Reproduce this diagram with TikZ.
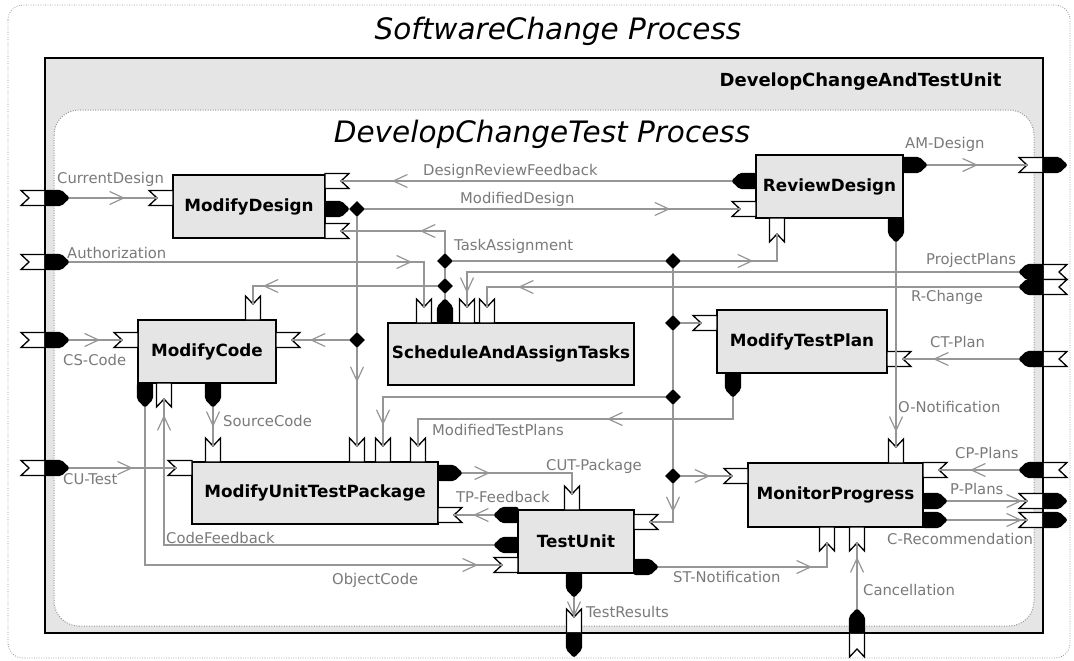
\documentclass[tikz,border=0pt]{standalone}
\usepackage{fontspec}
\setmainfont{DejaVu Sans}
\usetikzlibrary{arrows.meta,decorations.markings,shapes.geometric}
\definecolor{procfill}{RGB}{229,229,229}
\definecolor{flowgray}{RGB}{150,150,150}
\definecolor{labelgray}{RGB}{122,122,122}
\definecolor{framegray}{RGB}{150,150,150}
\begin{document}
\begin{tikzpicture}[x=1pt,y=-1pt,
	proc/.style={draw=black, line width=1.5pt, fill=procfill, inner sep=0pt, font=\fontsize{16.8}{20}\selectfont\bfseries},
	junc/.style={diamond, fill=black, inner sep=0pt, minimum size=16pt},
	flow/.style={color=flowgray, line width=1.2pt},
	flowtip/.style={postaction={decorate, decoration={markings, mark=at position #1 with {\arrow{Straight Barb[length=14pt,width=13pt]}}}}},
	lbl/.style={text=labelgray, font=\fontsize{14.8}{17}\selectfont, anchor=base west, inner sep=0pt},
	inport/.pic={\draw[line width=1.3pt, fill=white] (-24,-7.5) -- (0,-7.5) -- (0,7.5) -- (-24,7.5) -- (-16,0) -- cycle;
		\coordinate (-c) at (-16,0);},
	outport/.pic={\draw[line width=1.3pt, fill=black, rounded corners=2pt] (0,-7.5) -- (16,-7.5) -- (24,0) -- (16,7.5) -- (0,7.5) -- cycle;
		\coordinate (-c) at (24,0);}
	]
	\fill[white] (0,0) rectangle (1074,661);
	\useasboundingbox (0,0) rectangle (1074,661);
	\draw[framegray, line width=0.8pt, dash pattern=on 0.8pt off 1.6pt, rounded corners=15pt] (8,5) rectangle (1070,658);
	\node[font=\fontsize{29.5}{34}\selectfont\itshape] (title) at (558,31) {SoftwareChange Process};
	\draw[line width=1.5pt, fill=procfill] (45,58) rectangle (1043,633);
	\draw[framegray, line width=1pt, dash pattern=on 1pt off 1.5pt, fill=white, rounded corners=25pt] (54,110) rectangle (1034,626);
	\node[font=\fontsize{18}{21}\selectfont\bfseries, anchor=base east] (unitname) at (1005,87) {DevelopChangeAndTestUnit};
	\node[font=\fontsize{29.5}{34}\selectfont\itshape] (subtitle) at (542,134) {DevelopChangeTest Process};
	% processes
	\node[proc, minimum width=152pt, minimum height=63pt] (md) at (249,206.5) {ModifyDesign};
	\node[proc, minimum width=147pt, minimum height=63pt] (rd) at (829.5,186.5) {ReviewDesign};
	\node[proc, minimum width=138pt, minimum height=63pt] (mc) at (207,351.5) {ModifyCode};
	\node[proc, minimum width=246pt, minimum height=62pt] (st) at (511,354) {ScheduleAndAssignTasks};
	\node[proc, minimum width=170pt, minimum height=63pt] (mt) at (802,341.5) {ModifyTestPlan};
	\node[proc, minimum width=246pt, minimum height=62pt] (mu) at (315,493) {ModifyUnitTestPackage};
	\node[proc, minimum width=175pt, minimum height=64pt] (mp) at (835.5,495) {MonitorProgress};
	\node[proc, minimum width=116pt, minimum height=63pt] (tu) at (576,541.5) {TestUnit};
	% boundary ports
	\pic (cd-in) at (45,198) {inport}; \pic (cd-out) at (45,198) {outport};
	\pic (au-in) at (45,262) {inport}; \pic (au-out) at (45,262) {outport};
	\pic (cs-in) at (45,340) {inport}; \pic (cs-out) at (45,340) {outport};
	\pic (cu-in) at (45,468) {inport}; \pic (cu-out) at (45,468) {outport};
	\pic (am-in) at (1043,165) {inport}; \pic (am-out) at (1043,165) {outport};
	\pic[rotate=180] (pp-in) at (1043,272) {inport}; \pic[rotate=180] (pp-out) at (1043,272) {outport};
	\pic[rotate=180] (rc-in) at (1043,287) {inport}; \pic[rotate=180] (rc-out) at (1043,287) {outport};
	\pic[rotate=180] (ct-in) at (1043,359) {inport}; \pic[rotate=180] (ct-out) at (1043,359) {outport};
	\pic[rotate=180] (cp-in) at (1043,470) {inport}; \pic[rotate=180] (cp-out) at (1043,470) {outport};
	\pic (pl-in) at (1043,501) {inport}; \pic (pl-out) at (1043,501) {outport};
	\pic (cr-in) at (1043,520) {inport}; \pic (cr-out) at (1043,520) {outport};
	\pic[rotate=-90] (tr-in) at (574,633) {inport}; \pic[rotate=-90] (tr-out) at (574,633) {outport};
	\pic[rotate=90] (cn-in) at (857,633) {inport}; \pic[rotate=90] (cn-out) at (857,633) {outport};
	% process ports
	\pic (md-cd) at (173,198) {inport};
	\pic[rotate=180] (md-drf) at (325,181) {inport};
	\pic (md-mod) at (325,209) {outport};
	\pic[rotate=180] (md-ta) at (325,231) {inport};
	\pic[rotate=180] (rd-drf) at (756,181) {outport};
	\pic (rd-mod) at (756,209) {inport};
	\pic (rd-am) at (903,165) {outport};
	\pic[rotate=90] (rd-ta) at (777,218) {inport};
	\pic[rotate=-90] (rd-on) at (896,218) {outport};
	\pic (mc-cs) at (138,340) {inport};
	\pic[rotate=-90] (mc-ta) at (253,320) {inport};
	\pic[rotate=180] (mc-mod) at (276,340) {inport};
	\pic[rotate=-90] (mc-oc) at (145,383) {outport};
	\pic[rotate=90] (mc-cf) at (164,383) {inport};
	\pic[rotate=-90] (mc-sc) at (213,383) {outport};
	\pic[rotate=-90] (st-au) at (424,323) {inport};
	\pic[rotate=90] (st-ta) at (445,323) {outport};
	\pic[rotate=-90] (st-pp) at (467,323) {inport};
	\pic[rotate=-90] (st-rc) at (487,323) {inport};
	\pic (mt-ta) at (717,323) {inport};
	\pic[rotate=180] (mt-ct) at (887,359) {inport};
	\pic[rotate=-90] (mt-mtp) at (733,373) {outport};
	\pic (mu-cu) at (192,468) {inport};
	\pic[rotate=-90] (mu-sc) at (213,462) {inport};
	\pic[rotate=-90] (mu-mod) at (357,462) {inport};
	\pic[rotate=-90] (mu-ta) at (383,462) {inport};
	\pic[rotate=-90] (mu-mtp) at (418,462) {inport};
	\pic (mu-cut) at (438,473) {outport};
	\pic[rotate=180] (mu-tpf) at (438,515) {inport};
	\pic (mp-ta) at (748,476) {inport};
	\pic[rotate=-90] (mp-on) at (896,463) {inport};
	\pic[rotate=180] (mp-cp) at (923,470) {inport};
	\pic (mp-pl) at (923,501) {outport};
	\pic (mp-cr) at (923,520) {outport};
	\pic[rotate=90] (mp-st) at (827,527) {inport};
	\pic[rotate=90] (mp-cn) at (857,527) {inport};
	\pic[rotate=-90] (tu-cut) at (572,510) {inport};
	\pic[rotate=180] (tu-tpf) at (518,515) {outport};
	\pic[rotate=180] (tu-cf) at (518,545) {outport};
	\pic (tu-oc) at (518,565) {inport};
	\pic[rotate=180] (tu-ta) at (634,522) {inport};
	\pic (tu-st) at (634,567) {outport};
	\pic[rotate=-90] (tu-tr) at (574,573) {outport};
	% forks
	\node[junc] (j1) at (357,209) {};
	\node[junc] (j2) at (357,340) {};
	\node[junc] (j3) at (445,261) {};
	\node[junc] (j4) at (445,286) {};
	\node[junc] (j5) at (673,261) {};
	\node[junc] (j6) at (673,323) {};
	\node[junc] (j7) at (673,397) {};
	\node[junc] (j8) at (673,476) {};
	% flows
	\draw[flow, flowtip=56pt] (cd-out-c) -- (md-cd-c);
	\draw[flow, flowtip=343pt] (au-out-c) -| (st-au-c);
	\draw[flow, flowtip=31pt] (cs-out-c) -- (mc-cs-c);
	\draw[flow, flowtip=64pt] (cu-out-c) -- (mu-cu-c);
	\draw[flow, flowtip=340pt] (rd-drf-c) -- (md-drf-c);
	\draw[flow] (md-mod-c) -- (j1);
	\draw[flow, flowtip=305pt] (j1) -- (rd-mod-c);
	\draw[flow] (j1) -- (j2);
	\draw[flow, flowtip=39pt] (j2) -- (mc-mod-c);
	\draw[flow, flowtip=34pt] (j2) -- (mu-mod-c);
	\draw[flow] (st-ta-c) -- (j4);
	\draw[flow] (j4) -- (j3);
	\draw[flow, flowtip=47pt] (j3) |- (md-ta-c);
	\draw[flow, flowtip=174pt] (j4) -| (mc-ta-c);
	\draw[flow] (j3) -- (j5);
	\draw[flow, flowtip=72pt] (j5) -| (rd-ta-c);
	\draw[flow] (j5) -- (j6);
	\draw[flow] (j6) -- (mt-ta-c);
	\draw[flow] (j6) -- (j7);
	\draw[flow, flowtip=310pt] (j7) -| (mu-ta-c);
	\draw[flow] (j7) -- (j8);
	\draw[flow, flowtip=29pt] (j8) -- (mp-ta-c);
	\draw[flow, flowtip=28pt] (j8) |- (tu-ta-c);
	\draw[flow, flowtip=148pt] (mt-mtp-c) -- ++(0,22) -| (mu-mtp-c);
	\draw[flow, flowtip=573pt] (pp-out-c) -| (st-pp-c);
	\draw[flow, flowtip=501pt] (rc-out-c) -| (st-rc-c);
	\draw[flow, flowtip=51pt] (rd-am-c) -- (am-in-c);
	\draw[flow, flowtip=190pt] (rd-on-c) -- (mp-on-c);
	\draw[flow, flowtip=86pt] (ct-out-c) -- (mt-ct-c);
	\draw[flow, flowtip=49pt] (cp-out-c) -- (mp-cp-c);
	\draw[flow, flowtip=75pt] (mp-pl-c) -- (pl-in-c);
	\draw[flow, flowtip=75pt] (mp-cr-c) -- (cr-in-c);
	\draw[flow, flowtip=20pt] (mc-sc-c) -- (mu-sc-c);
	\draw[flow, flowtip=491pt] (mc-oc-c) |- (tu-oc-c);
	\draw[flow, flowtip=460pt] (tu-cf-c) -| (mc-cf-c);
	\draw[flow, flowtip=28pt] (mu-cut-c) -| (tu-cut-c);
	\draw[flow, flowtip=21pt] (tu-tpf-c) -- (mu-tpf-c);
	\draw[flow, flowtip=154pt] (tu-st-c) -| (mp-st-c);
	\draw[flow, flowtip=52pt] (cn-out-c) -- (mp-cn-c);
	\draw[flow, flowtip=20pt] (tu-tr-c) -- (tr-in-c);
	% flow names
	\node[lbl] (l-cd) at (57,183) {CurrentDesign};
	\node[lbl] (l-au) at (67,258) {Authorization};
	\node[lbl] (l-cs) at (63,365) {CS-Code};
	\node[lbl] (l-cu) at (63,484) {CU-Test};
	\node[lbl] (l-sc) at (223,426) {SourceCode};
	\node[lbl] (l-drf) at (423,175) {DesignReviewFeedback};
	\node[lbl] (l-mod) at (460,203) {ModifiedDesign};
	\node[lbl] (l-ta) at (454,250) {TaskAssignment};
	\node[lbl] (l-am) at (905,148) {AM-Design};
	\node[lbl] (l-pp) at (926,264) {ProjectPlans};
	\node[lbl] (l-rc) at (911,301) {R-Change};
	\node[lbl] (l-ct) at (930,347) {CT-Plan};
	\node[lbl] (l-on) at (898,412) {O-Notification};
	\node[lbl] (l-cp) at (955,458) {CP-Plans};
	\node[lbl] (l-pl) at (950,494) {P-Plans};
	\node[lbl] (l-cr) at (887,544) {C-Recommendation};
	\node[lbl] (l-mtp) at (432,435) {ModifiedTestPlans};
	\node[lbl] (l-cut) at (546,470) {CUT-Package};
	\node[lbl] (l-tpf) at (456,502) {TP-Feedback};
	\node[lbl] (l-cf) at (166,543) {CodeFeedback};
	\node[lbl] (l-oc) at (332,584) {ObjectCode};
	\node[lbl] (l-tr) at (586,617) {TestResults};
	\node[lbl] (l-st) at (673,582) {ST-Notification};
	\node[lbl] (l-cn) at (863,595) {Cancellation};
\end{tikzpicture}
\end{document}
